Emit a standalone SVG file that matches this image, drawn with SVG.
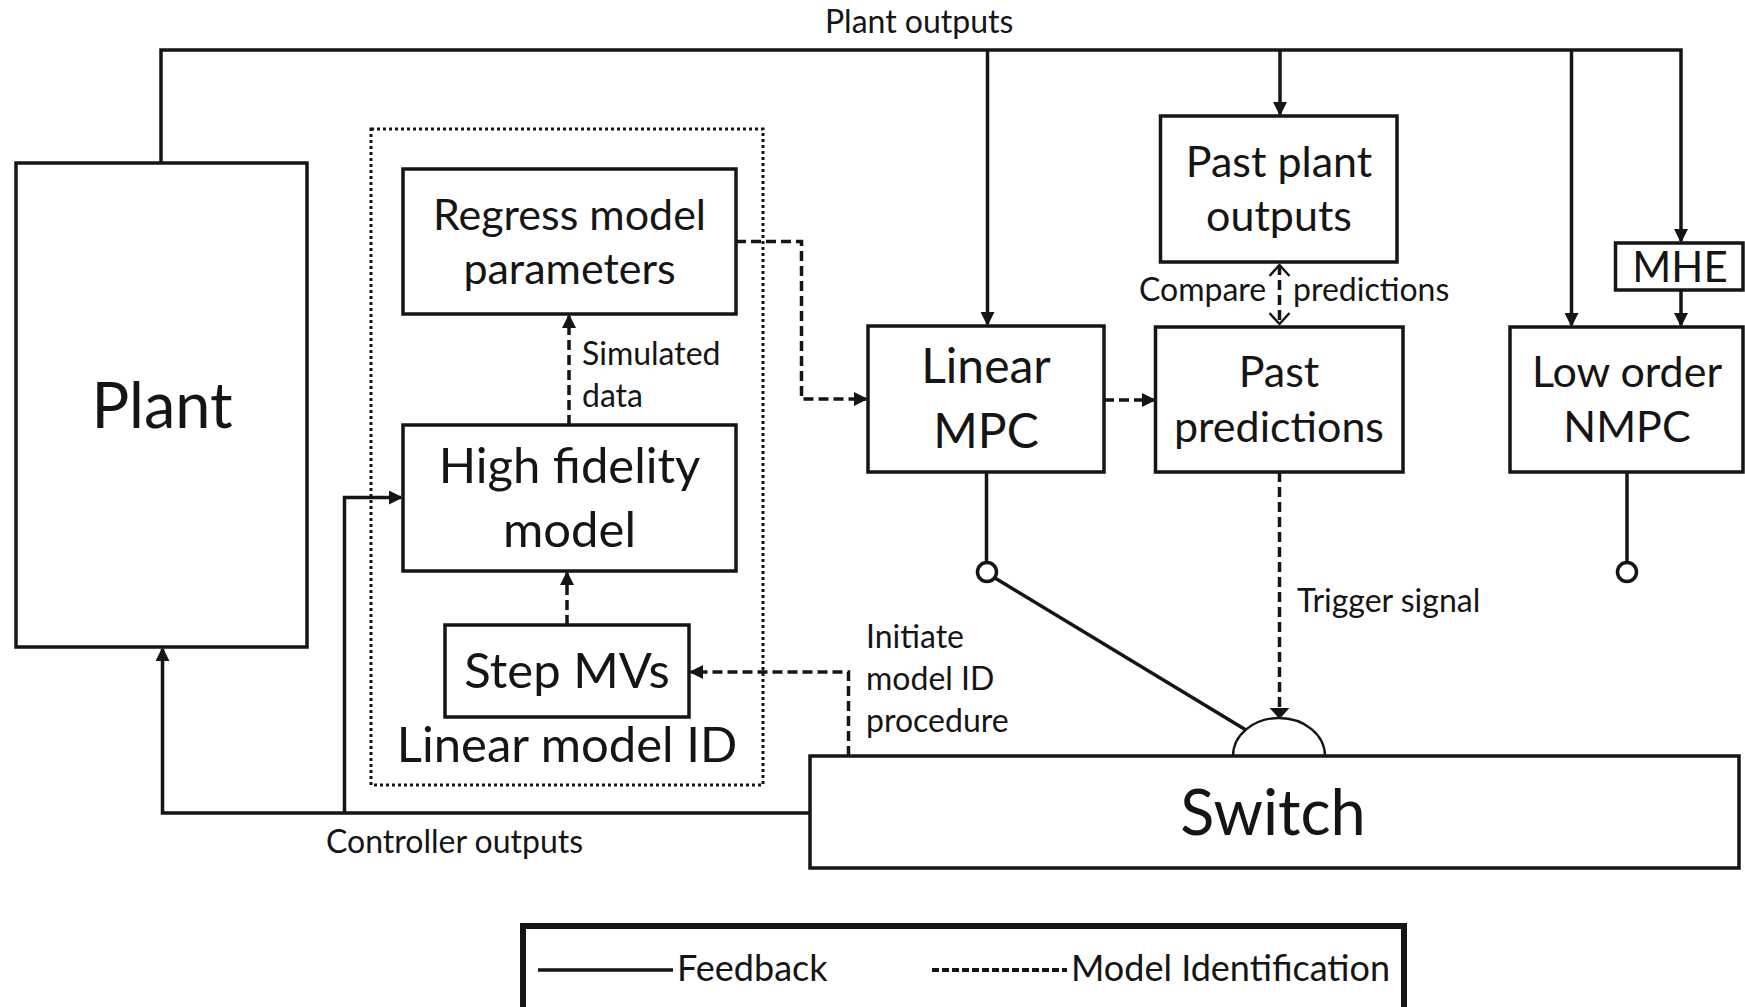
<svg xmlns="http://www.w3.org/2000/svg" width="1745" height="1007" viewBox="0 0 1745 1007">
<style>
.box{fill:#fff;stroke:#151515;stroke-width:3.5}
.ln{fill:none;stroke:#151515;stroke-width:3.5}
.dash{fill:none;stroke:#151515;stroke-width:3.5;stroke-dasharray:10 5}
.dot{fill:none;stroke:#151515;stroke-width:3;stroke-dasharray:3 3}
text{font-family:Lato,"Liberation Sans",sans-serif;fill:#151515}
.big{font-size:63px}
.lab{font-size:43px;text-anchor:middle}
.lab2{font-size:49px;text-anchor:middle}
.sm{font-size:32px}
.lg{font-size:36px}
</style>
<defs>
<marker id="arr" markerUnits="userSpaceOnUse" markerWidth="14" markerHeight="14" refX="12" refY="7" orient="auto">
<path d="M0,0 L14,7 L0,14 z" fill="#151515"/>
</marker>
<marker id="wide" markerUnits="userSpaceOnUse" markerWidth="11" markerHeight="20" refX="10" refY="10" orient="auto">
<path d="M0,0 L11,10 L0,20 z" fill="#151515"/>
</marker>
<marker id="chev" markerUnits="userSpaceOnUse" markerWidth="14" markerHeight="22" refX="12" refY="11" orient="auto-start-reverse">
<path d="M1,1 L12,11 L1,21" fill="none" stroke="#151515" stroke-width="2.5"/>
</marker>
</defs>
<rect width="1745" height="1007" fill="#fff"/>

<g id="connectors">
<path class="ln" d="M161,163 V50 H1681 V241" marker-end="url(#arr)"/>
<path class="ln" d="M987.5,50 V324" marker-end="url(#arr)"/>
<path class="ln" d="M1280,50 V114" marker-end="url(#arr)"/>
<path class="ln" d="M1571.5,50 V325" marker-end="url(#arr)"/>
<path class="ln" d="M1681,290 V325" marker-end="url(#arr)"/>
<path class="ln" d="M809,813 H162.5 V649" marker-end="url(#arr)"/>
<path class="ln" d="M344.5,813 V497.5 H401" marker-end="url(#arr)"/>
<path class="ln" d="M986.5,472 V562"/>
<circle class="ln" cx="987" cy="572" r="9.5" fill="#fff"/>
<path class="ln" d="M995,578 L1246,730"/>
<path class="ln" d="M1627,472 V562"/>
<circle class="ln" cx="1627" cy="572" r="9.5" fill="#fff"/>
<path d="M1233,756 A46,38 0 0 1 1325,756" fill="none" stroke="#151515" stroke-width="2.4"/>
<path class="dash" d="M736,241.5 H801.5 V399 H866" marker-end="url(#arr)"/>
<path class="dash" d="M1104,400 H1154" marker-end="url(#arr)"/>
<path class="dash" d="M1279.5,265 V324" stroke-width="3" marker-start="url(#chev)" marker-end="url(#chev)"/>
<path class="dash" d="M1279.5,472 V718" marker-end="url(#wide)"/>
<path class="dash" d="M569,425 V316" marker-end="url(#arr)"/>
<path class="dash" d="M567,625 V573" marker-end="url(#arr)"/>
<path class="dash" d="M848.5,756 V672 H691" marker-end="url(#arr)"/>
<text class="sm" x="825" y="33">Plant outputs</text>
<text class="sm" x="582" y="365">Simulated</text>
<text class="sm" x="582" y="407">data</text>
<text class="sm" x="1139" y="301">Compare</text>
<text class="sm" x="1293" y="301">predictions</text>
<text class="sm" x="1297" y="612">Trigger signal</text>
<text class="sm" x="866" y="648">Initiate</text>
<text class="sm" x="866" y="690">model ID</text>
<text class="sm" x="866" y="732">procedure</text>
<text class="sm" x="326" y="853">Controller outputs</text>
</g>

<g id="linear-model-id">
<rect class="dot" x="371" y="129" width="392" height="656"/>
<text class="lab2" x="567" y="762">Linear model ID</text>
</g>

<g id="plant">
<rect class="box" x="16" y="163" width="291" height="484"/>
<text class="big" x="162" y="428" text-anchor="middle">Plant</text>
</g>

<g id="regress">
<rect class="box" x="403" y="169" width="333" height="145"/>
<text class="lab" x="569.5" y="230">Regress model</text>
<text class="lab" x="569.5" y="284">parameters</text>
</g>

<g id="high-fidelity">
<rect class="box" x="403" y="425" width="333" height="146"/>
<text class="lab2" x="569.5" y="483">High fidelity</text>
<text class="lab2" x="569.5" y="547">model</text>
</g>

<g id="step-mvs">
<rect class="box" x="445" y="625" width="244" height="92"/>
<text class="lab2" x="567" y="688">Step MVs</text>
</g>

<g id="linear-mpc">
<rect class="box" x="868" y="326" width="236" height="146"/>
<text class="lab" x="986" y="383" style="font-size:48px">Linear</text>
<text class="lab" x="986" y="448" style="font-size:48px">MPC</text>
</g>

<g id="past-plant-outputs">
<rect class="box" x="1160.5" y="116" width="236.5" height="146"/>
<text class="lab" x="1279" y="177">Past plant</text>
<text class="lab" x="1279" y="231">outputs</text>
</g>

<g id="past-predictions">
<rect class="box" x="1155.5" y="327" width="247.5" height="145"/>
<text class="lab" x="1279" y="387">Past</text>
<text class="lab" x="1279" y="442">predictions</text>
</g>

<g id="mhe">
<rect class="box" x="1615.5" y="243" width="127.5" height="47"/>
<text class="lab" x="1680" y="282" style="font-size:42px">MHE</text>
</g>

<g id="nmpc">
<rect class="box" x="1510" y="327" width="233" height="145"/>
<text class="lab" x="1627" y="387">Low order</text>
<text class="lab" x="1627" y="442">NMPC</text>
</g>

<g id="switch">
<rect class="box" x="810" y="756" width="929" height="112"/>
<text class="big" x="1273" y="835" text-anchor="middle">Switch</text>
</g>

<g id="legend">
<rect x="523" y="926" width="881" height="95" fill="none" stroke="#151515" stroke-width="6"/>
<path class="ln" d="M538,970 H673"/>
<text class="lg" x="677" y="981">Feedback</text>
<path class="dash" d="M932,970 H1067" style="stroke-dasharray:7 3;stroke-width:4"/>
<text class="lg" x="1071" y="981">Model Identification</text>
</g>
</svg>
